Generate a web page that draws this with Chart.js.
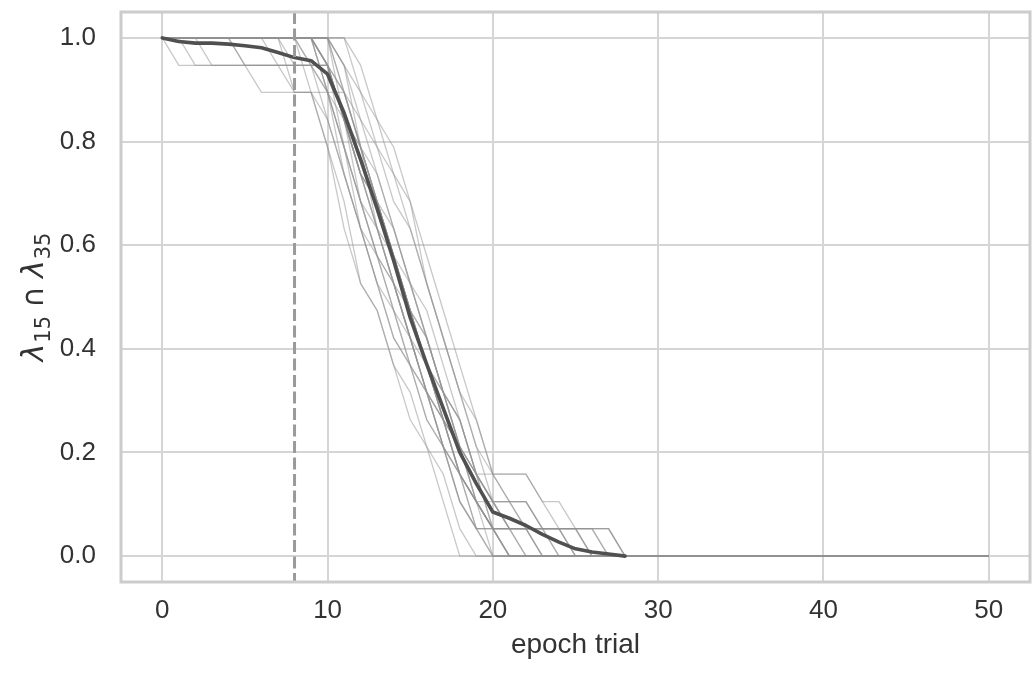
<!DOCTYPE html>
<html lang="en">
<head>
  <meta charset="UTF-8" />
  <title>Overlap per epoch trial</title>
  <script src="https://cdn.jsdelivr.net/npm/chart.js"></script>
  <style>
    html, body { margin: 0; padding: 0; background: #fff; }
  </style>
</head>
<body>
  <canvas id="overlapChart" width="1033" height="673"></canvas>

  <script>
    // axis ticks
    const epochTicks = [0, 10, 20, 30, 40, 50];
    const overlapTicks = [0, 0.2, 0.4, 0.6, 0.8, 1.0];

    // dashed marker and the flat tail every trial ends on
    const stopEpoch = 8;
    const finalEpoch = 50;
    const finalOverlap = 0;

    // one value per epoch, starting at epoch 0, until the trial reaches 0
    const trial01 = [1,.947,.947,.947,.947,.947,.947,.947,.947,.947,.947,.842,.737,.632,.526,.474,.368,.263,.158,.105,.053,0];
    const trial02 = [1,1,.947,.947,.947,.947,.947,.947,.947,.947,.947,.842,.789,.684,.579,.474,.368,.316,.211,.105,.053,.053,.053,.053,0];
    const trial03 = [1,1,1,.947,.947,.947,.947,.947,.947,.947,.895,.789,.684,.579,.526,.421,.316,.211,.158,.053,0];
    const trial04 = [1,1,1,1,1,.947,.895,.895,.895,.895,.842,.737,.632,.526,.421,.368,.263,.211,.105,.053,.053,.053,0];
    const trial05 = [1,1,1,1,1,1,1,1,.895,.895,.789,.684,.526,.474,.368,.263,.211,.105,0];
    const trial06 = [1,1,1,1,1,1,1,.947,.895,.895,.895,.895,.789,.684,.579,.474,.368,.263,.158,.105,.053,0];
    const trial07 = [1,1,1,1,1,1,1,1,1,1,1,.895,.789,.632,.526,.421,.316,.263,.158,.105,.053,.053,.053,.053,.053,.053,0];
    const trial08 = [1,1,1,1,1,1,1,1,1,1,.947,.842,.737,.632,.579,.474,.368,.263,.211,.158,.105,.053,.053,.053,.053,.053,.053,0];
    const trial09 = [1,1,1,1,1,1,1,1,1,1,1,1,.895,.842,.737,.684,.526,.421,.316,.263,.158,.105,.105,.053,.053,.053,.053,.053,0];
    const trial10 = [1,1,1,1,1,1,1,1,1,.947,.947,.842,.737,.684,.579,.474,.421,.316,.211,.158,.158,.158,.158,.105,.053,0];
    const trial11 = [1,1,1,1,1,1,1,1,1,1,.895,.789,.684,.579,.526,.421,.316,.211,.105,.053,0];
    const trial12 = [1,1,1,1,1,1,1,1,1,1,.947,.789,.684,.579,.474,.421,.316,.263,.211,.105,.105,.105,.105,.053,0];
    const trial13 = [1,1,1,1,1,1,1,1,.947,.947,.842,.737,.632,.579,.474,.368,.316,.211,.158,.105,.053,.053,.053,.053,.053,0];
    const trial14 = [1,1,1,1,1,1,1,1,1,1,1,.842,.737,.684,.579,.474,.368,.263,.211,.158,.105,.105,.053,0];
    const trial15 = [1,1,1,1,1,1,1,1,1,1,.947,.895,.789,.684,.632,.526,.421,.316,.211,.158,.053,0];
    const trial16 = [1,1,1,1,1,1,1,1,1,1,.895,.842,.737,.632,.526,.421,.368,.263,.158,.105,.053,.053,.053,.053,.053,.053,.053,.053,0];
    const trial17 = [1,1,1,1,1,1,1,1,1,1,1,.895,.789,.737,.632,.526,.421,.316,.263,.158,.105,.053,.053,.053,.053,0];
    const trial18 = [1,1,1,1,1,1,1,1,1,.947,.895,.789,.632,.526,.474,.368,.316,.211,.158,.053,.053,0];
    const trial19 = [1,1,1,1,1,1,1,1,1,1,.947,.842,.684,.632,.526,.421,.316,.263,.158,.105,0];
    const trial20 = [1,1,1,1,1,1,1,1,1,1,1,.947,.789,.684,.579,.526,.421,.316,.263,.158,.105,.105,.105,.053,.053,.053,.053,0];
    const trial21 = [1,1,1,1,1,1,1,1,1,1,.947,.842,.789,.684,.579,.474,.368,.316,.211,.105,.053,0];
    const trial22 = [1,1,1,1,1,.947,.947,.947,.947,.947,.947,.842,.737,.684,.579,.474,.421,.316,.263,.158,.105,.053,.053,0];
    const trial23 = [1,1,1,1,1,1,1,1,1,1,1,1,.947,.842,.789,.684,.579,.474,.368,.263,.158,.105,.053,.053,.053,.053,.053,.053,0];
    const trial24 = [1,1,1,1,1,1,1,1,1,.895,.789,.632,.526,.474,.368,.316,.211,.158,.053,0];
    const trial25 = [1,1,1,1,1,1,1,1,1,1,1,.947,.895,.789,.737,.632,.526,.421,.316,.211,.158,.158,.158,.105,.105,.053,0];
    const trial26 = [1,1,1,1,1,1,1,1,1,1,.895,.737,.632,.526,.421,.368,.263,.211,.105,.053,.053,.053,.053,0];
    const trial27 = [1,1,1,1,1,1,1,1,1,1,1,.947,.842,.789,.684,.632,.526,.421,.316,.211,.105,.053,0];
    const trial28 = [1,1,1,1,1,1,1,1,1,1,.947,.895,.842,.737,.632,.526,.474,.368,.263,.158,.053,.053,.053,.053,.053,.053,0];

    const trials = [trial01, trial02, trial03, trial04, trial05, trial06, trial07,
                    trial08, trial09, trial10, trial11, trial12, trial13, trial14,
                    trial15, trial16, trial17, trial18, trial19, trial20, trial21,
                    trial22, trial23, trial24, trial25, trial26, trial27, trial28];

    // mean over trials, epochs 0..28
    const meanOverlap = [1,.993,.99,.99,.988,.985,.981,.972,.962,.956,.93,.855,.765,.67,.57,.46,.37,.285,.2,.14,.085,.073,.059,.042,.027,.014,.008,.004,0];

    const toPoints = vals => vals.map((v, i) => ({ x: i, y: v }));

    const datasets = [{
      data: toPoints(meanOverlap),
      borderColor: '#505050',
      borderWidth: 3.6,
      borderJoinStyle: 'round',
      borderCapStyle: 'round',
      order: 0
    }];
    trials.forEach(vals => {
      datasets.push({
        data: toPoints(vals).concat({ x: finalEpoch, y: finalOverlap }),
        borderColor: 'rgba(145,145,145,0.5)',
        borderWidth: 1.3,
        order: 1
      });
    });

    const sans = '"Liberation Sans", Arial, sans-serif';
    const tickFont = { family: sans, size: 26 };
    const tickColor = '#333333';
    const gridColor = '#d5d5d5';

    // frame, dashed epoch marker and the y label with subscripts
    const decorations = {
      id: 'decorations',
      afterDatasetsDraw(chart) {
        const { ctx, chartArea: a, scales } = chart;
        const xs = scales.x.getPixelForValue(stopEpoch);
        ctx.save();
        ctx.strokeStyle = '#9a9a9a';
        ctx.lineWidth = 3;
        ctx.setLineDash([12, 4.5]);
        ctx.beginPath();
        ctx.moveTo(xs, a.top);
        ctx.lineTo(xs, a.bottom);
        ctx.stroke();
        ctx.restore();
      },
      afterDraw(chart) {
        const { ctx, chartArea: a } = chart;
        ctx.save();
        ctx.strokeStyle = '#cccccc';
        ctx.lineWidth = 3;
        ctx.strokeRect(a.left, a.top, a.right - a.left, a.bottom - a.top);
        ctx.restore();

        const big = '30px "DejaVu Sans", sans-serif';
        const bigIt = 'italic 30px "DejaVu Sans", sans-serif';
        const small = '21px "DejaVu Sans", sans-serif';
        const parts = [
          { t: 'λ', f: bigIt, dy: 0, gap: 1 },
          { t: '15', f: small, dy: 7, gap: 8 },
          { t: '∩', f: big, dy: 0, gap: 8 },
          { t: 'λ', f: bigIt, dy: 0, gap: 1 },
          { t: '35', f: small, dy: 7, gap: 0 }
        ];
        ctx.save();
        ctx.fillStyle = tickColor;
        ctx.textBaseline = 'alphabetic';
        let total = 0;
        parts.forEach(p => { ctx.font = p.f; p.w = ctx.measureText(p.t).width; total += p.w + p.gap; });
        ctx.translate(43, (a.top + a.bottom) / 2);
        ctx.rotate(-Math.PI / 2);
        let x = -total / 2;
        parts.forEach(p => {
          ctx.font = p.f;
          ctx.fillText(p.t, x, p.dy);
          x += p.w + p.gap;
        });
        ctx.restore();
      }
    };

    new Chart(document.getElementById('overlapChart'), {
      type: 'line',
      data: { datasets },
      plugins: [decorations],
      options: {
        responsive: false,
        devicePixelRatio: 1,
        animation: false,
        layout: { padding: { top: 12, right: 3, left: 0, bottom: 0 } },
        elements: { point: { radius: 0 }, line: { tension: 0 } },
        plugins: { legend: { display: false }, tooltip: { enabled: false } },
        scales: {
          x: {
            type: 'linear',
            min: -2.5,
            max: 52.5,
            afterBuildTicks: s => { s.ticks = epochTicks.map(v => ({ value: v })); },
            afterFit: s => { s.height = 91; s.paddingLeft = 0; s.paddingRight = 0; },
            grid: { color: gridColor, lineWidth: 2, drawTicks: false },
            border: { display: false },
            ticks: { padding: 13, font: tickFont, color: tickColor, maxRotation: 0 },
            title: {
              display: true,
              text: 'epoch trial',
              color: tickColor,
              font: { family: sans, size: 28 },
              padding: { top: 0, bottom: 11 }
            }
          },
          y: {
            type: 'linear',
            min: -0.05,
            max: 1.05,
            afterBuildTicks: s => { s.ticks = overlapTicks.map(v => ({ value: v })); },
            afterFit: s => { s.width = 121; s.paddingTop = 0; s.paddingBottom = 0; },
            grid: { color: gridColor, lineWidth: 2, drawTicks: false },
            border: { display: false },
            ticks: { padding: 25, font: tickFont, color: tickColor, callback: v => v.toFixed(1) }
          }
        }
      }
    });
  </script>
</body>
</html>
